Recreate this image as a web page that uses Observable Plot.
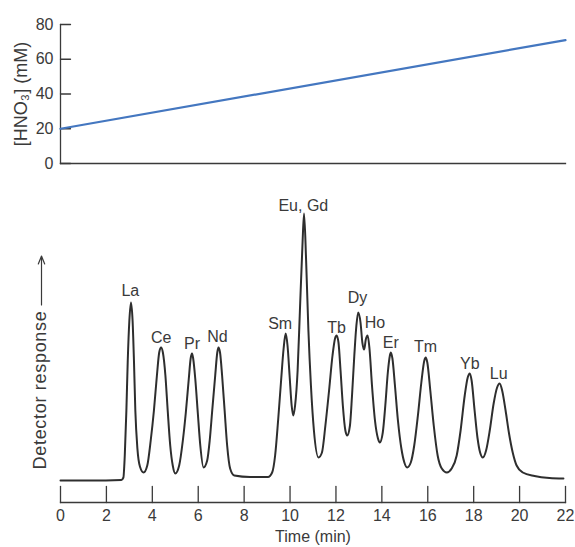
<!DOCTYPE html>
<html><head><meta charset="utf-8">
<script src="https://cdn.jsdelivr.net/npm/d3@7"></script>
<script src="https://cdn.jsdelivr.net/npm/@observablehq/plot@0.6"></script>
<style>
html,body{margin:0;padding:0;background:#fff;}
#chart{width:575px;}
#chart svg{display:block;}
</style></head><body><div id="chart"></div>
<script>
// HNO3 gradient (top panel)
const gradTime = [0, 22];
const gradConc = [20, 71];
const hno3Ticks = [0, 20, 40, 60, 80];
const timeTicks = [0, 2, 4, 6, 8, 10, 12, 14, 16, 18, 20, 22];

// Chromatogram trace (response in arbitrary units)
const traceTime = [
  0, 1.30, 2.65,
  2.74, 2.80, 2.87, 2.93, 3.00, 3.07, 3.14, 3.20, 3.26, 3.35, 3.46, 3.62,
  3.78, 3.93, 4.07, 4.20, 4.30, 4.38, 4.46, 4.57, 4.67, 4.78, 4.89, 5.00,
  5.17, 5.33, 5.46, 5.59, 5.67, 5.73, 5.78, 5.87, 5.98, 6.09, 6.23,
  6.39, 6.50, 6.61, 6.74, 6.83, 6.88, 6.95, 7.04, 7.15, 7.26, 7.39, 7.57, 8.26, 9.04,
  9.22, 9.35, 9.48, 9.61, 9.72, 9.81, 9.89, 9.98, 10.07, 10.14,
  10.22, 10.33, 10.43, 10.54, 10.61, 10.70, 10.80, 10.91, 11.04, 11.24,
  11.39, 11.54, 11.70, 11.85, 11.96, 12.03, 12.11, 12.20, 12.30, 12.41, 12.49,
  12.61, 12.70, 12.80, 12.89, 12.97, 13.07, 13.15, 13.23, 13.30, 13.38, 13.46, 13.57, 13.70, 13.83, 13.91,
  14.04, 14.15, 14.26, 14.35, 14.39, 14.46, 14.57, 14.70, 14.85, 14.98, 15.10,
  15.26, 15.41, 15.57, 15.72, 15.85, 15.91, 15.98, 16.11, 16.26, 16.43, 16.61, 16.83,
  17.04, 17.26, 17.43, 17.61, 17.74, 17.83, 17.91, 18.04, 18.17, 18.28, 18.40,
  18.54, 18.70, 18.87, 19.02, 19.13, 19.24, 19.39, 19.54, 19.70, 19.87, 20.14, 20.65, 21.30, 21.91
];
const traceResponse = [
  0, 0, 0.5,
  3, 25, 70, 120, 160, 178, 160, 120, 70, 32, 14, 8,
  15, 40, 70, 105, 128, 133, 128, 105, 70, 35, 15, 7,
  15, 40, 68, 102, 122, 127, 122, 102, 68, 35, 13,
  20, 40, 70, 105, 128, 133, 128, 105, 70, 35, 12, 5, 3.5, 3.5,
  8, 25, 60, 100, 132, 147, 135, 105, 75, 65,
  75, 110, 170, 235, 267, 220, 150, 95, 50, 23,
  28, 55, 90, 125, 142, 145, 138, 110, 75, 50, 45,
  55, 85, 125, 155, 168, 158, 138, 131, 141, 145, 132, 95, 60, 42, 38,
  48, 75, 108, 125, 128, 122, 95, 60, 32, 18, 13,
  18, 35, 65, 98, 120, 123, 118, 90, 55, 25, 12, 8,
  12, 25, 50, 85, 103, 107, 100, 70, 42, 28, 23,
  30, 50, 77, 93, 97, 90, 70, 47, 28, 15, 8, 4.5, 2.5, 2
];

// Peak labels
const elements = ["La", "Ce", "Pr", "Nd", "Sm", "Eu, Gd", "Tb", "Dy", "Ho", "Er", "Tm", "Yb", "Lu"];
const labelTime = [3.04, 4.39, 5.73, 6.84, 9.57, 10.58, 12.03, 12.94, 13.70, 14.39, 15.90, 17.83, 19.09];
const labelResponse = [190, 143, 137, 144, 157, 275, 153, 183, 158, 138, 134, 117, 107];

const font = "'Liberation Sans', Arial, Helvetica, sans-serif";
const ink = "#3a3a3a";
const tickShape = {draw(context, l) { context.moveTo(0, 0); context.lineTo(0, -l); }};
const arrowShape = {draw(context, l) {
  context.moveTo(0, 0); context.lineTo(0, -l);
  context.moveTo(-3.2, -l + 8); context.lineTo(0, -l); context.lineTo(3.2, -l + 8);
}};

const topPlot = Plot.plot({
  width: 575, height: 180,
  marginLeft: 60, marginRight: 10, marginTop: 24, marginBottom: 17,
  style: {fontFamily: font, fontSize: "16px", color: ink, background: "white", overflow: "visible"},
  x: {domain: [0, 22], axis: null},
  y: {domain: [0, 80], axis: null},
  marks: [
    Plot.frame({anchor: "left", stroke: ink, strokeWidth: 1.3}),
    Plot.frame({anchor: "bottom", stroke: ink, strokeWidth: 1.3}),
    Plot.vectorY(hno3Ticks, {frameAnchor: "left", rotate: 90, length: 10, anchor: "start", shape: tickShape, stroke: ink, strokeWidth: 1.3}),
    Plot.axisY({ticks: hno3Ticks, tickSize: 0, tickPadding: 7, label: null, fontSize: 16}),
    Plot.line(gradTime, {x: gradTime, y: gradConc, stroke: "#4477c0", strokeWidth: 2.2}),
    Plot.text(["[HNO₃] (mM)"], {frameAnchor: "left", dx: -39, rotate: -90, textAnchor: "middle", lineAnchor: "middle", fontSize: 18})
  ]
});

const bottomPlot = Plot.plot({
  width: 575, height: 367,
  marginLeft: 60, marginRight: 10, marginTop: 33, marginBottom: 45,
  style: {fontFamily: font, fontSize: "16px", color: ink, background: "white", overflow: "visible"},
  x: {domain: [0, 22], axis: null},
  y: {domain: [-22, 267], axis: null},
  marks: [
    Plot.frame({anchor: "bottom", stroke: ink, strokeWidth: 1.3}),
    Plot.vectorX(timeTicks, {frameAnchor: "bottom", length: 16, anchor: "start", shape: tickShape, stroke: ink, strokeWidth: 1.3}),
    Plot.axisX({ticks: timeTicks, tickSize: 0, tickPadding: 7, label: null, fontSize: 16}),
    Plot.line(traceTime, {x: traceTime, y: traceResponse, curve: "monotone-x", stroke: "#2e2e2e", strokeWidth: 2}),
    Plot.text(elements, {x: labelTime, y: labelResponse, text: d => d, fontSize: 16, fill: ink}),
    Plot.text(["Time (min)"], {frameAnchor: "bottom", dy: 34, textAnchor: "middle", lineAnchor: "middle", fontSize: 16}),
    Plot.text(["Detector response"], {frameAnchor: "left", dx: -20, dy: 32, rotate: -90, textAnchor: "middle", lineAnchor: "middle", fontSize: 18}),
    Plot.vector(["arrow"], {frameAnchor: "left", dx: -19, dy: -53, length: 49, anchor: "start", shape: arrowShape, stroke: ink, strokeWidth: 1.2})
  ]
});

d3.select(bottomPlot).selectAll("text")
  .filter(function() { return this.textContent === "Detector response"; })
  .style("letter-spacing", "0.7px");

document.getElementById("chart").append(topPlot, bottomPlot);
</script>
</body></html>
